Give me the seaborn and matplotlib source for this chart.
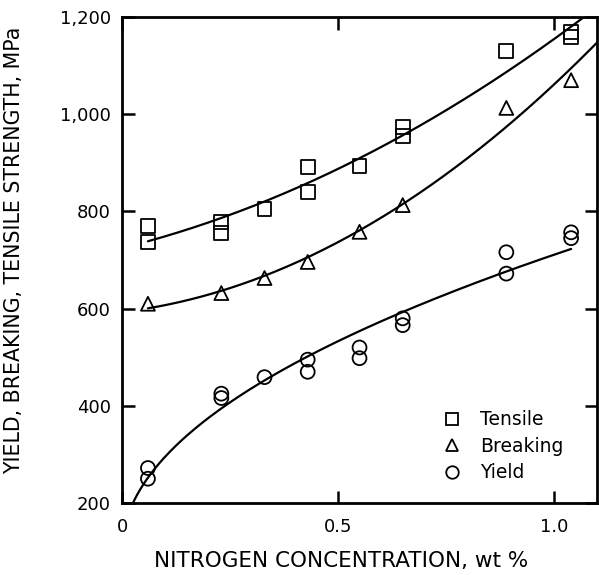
import numpy as np
import pandas as pd
import matplotlib
matplotlib.use("Agg")
import matplotlib.pyplot as plt
from matplotlib.lines import Line2D
from matplotlib.ticker import FuncFormatter
import seaborn as sns

# Nitrogen concentration (wt %) and measured strengths (MPa)
tensile_n = [0.06, 0.06, 0.23, 0.23, 0.33, 0.43, 0.43, 0.55, 0.65, 0.65, 0.89, 1.04, 1.04]
tensile_mpa = [770, 737, 778, 756, 805, 891, 840, 893, 974, 955, 1130, 1170, 1158]

breaking_n = [0.06, 0.23, 0.33, 0.43, 0.55, 0.65, 0.89, 1.04]
breaking_mpa = [610, 632, 663, 696, 758, 813, 1013, 1070]

yield_n = [0.06, 0.06, 0.23, 0.23, 0.33, 0.43, 0.43, 0.55, 0.55, 0.65, 0.65, 0.89, 0.89, 1.04, 1.04]
yield_mpa = [272, 250, 425, 416, 459, 495, 470, 520, 498, 580, 566, 716, 672, 757, 745]

x_ticks = [0, 0.5, 1.0]
y_ticks = [200, 400, 600, 800, 1000, 1200]

sns.set_style("ticks")
plt.rcParams["font.family"] = ["DejaVu Sans"]
for key in ("text.color", "axes.labelcolor", "xtick.color", "ytick.color", "axes.edgecolor"):
    plt.rcParams[key] = "black"

fig = plt.figure(figsize=(5.99, 5.75), dpi=100)
ax = fig.add_axes([0.2037, 0.1252, 0.793, 0.8452])


def quad_trend(xs, ys, grid):
    coef = np.polyfit(xs, ys, 2)
    return np.polyval(coef, grid)


def sqrt_trend(xs, ys, grid):
    coef = np.polyfit(np.sqrt(xs), ys, 1)
    return np.polyval(coef, np.sqrt(grid))


series = [
    ("Tensile", tensile_n, tensile_mpa, "s", (0.06, 1.1), quad_trend),
    ("Breaking", breaking_n, breaking_mpa, "^", (0.06, 1.1), quad_trend),
    ("Yield", yield_n, yield_mpa, "o", (0.0, 1.04), sqrt_trend),
]

handles = []
for name, xs, ys, mk, (x0, x1), trend in series:
    df = pd.DataFrame({"n": xs, "mpa": ys})
    sns.scatterplot(data=df, x="n", y="mpa", marker=mk, s=100, ax=ax,
                    facecolor="none", edgecolor="black", linewidth=1.3,
                    zorder=3, legend=False)
    # least-squares trend curve through the measurements
    grid = np.linspace(x0, x1, 300)
    fit = pd.DataFrame({"n": grid, "mpa": trend(xs, ys, grid)})
    sns.lineplot(data=fit, x="n", y="mpa", color="black", linewidth=1.6,
                 ax=ax, zorder=2)
    handles.append(Line2D([], [], linestyle="none", marker=mk, markersize=9,
                          markerfacecolor="none", markeredgecolor="black",
                          markeredgewidth=1.3, label=name))

ax.set_xlim(0, 1.1)
ax.set_ylim(200, 1200)
ax.set_xticks(x_ticks)
ax.set_yticks(y_ticks)
ax.xaxis.set_major_formatter(FuncFormatter(lambda v, p: "0" if v == 0 else f"{v:.1f}"))
ax.yaxis.set_major_formatter(FuncFormatter(lambda v, p: f"{int(v):,}"))
ax.tick_params(direction="in", length=9, width=1.8, top=True, right=True,
               labelsize=13, pad=8, colors="black")
ax.tick_params(axis="x", pad=11)
for sp in ax.spines.values():
    sp.set_visible(True)
    sp.set_linewidth(2.0)
    sp.set_color("black")

ax.set_xlabel("NITROGEN CONCENTRATION, wt %", fontsize=15.5)
ax.set_ylabel("YIELD, BREAKING, TENSILE STRENGTH, MPa", fontsize=14.8)
ax.xaxis.set_label_coords(0.462, -0.099)
ax.yaxis.set_label_coords(-0.206, 0.52)

ax.legend(handles=handles, loc="lower left", bbox_to_anchor=(0.64, 0.008),
          frameon=False, fontsize=13.5, handletextpad=1.0, labelspacing=0.4,
          handlelength=1.0)

fig.savefig("out.png", dpi=100)
